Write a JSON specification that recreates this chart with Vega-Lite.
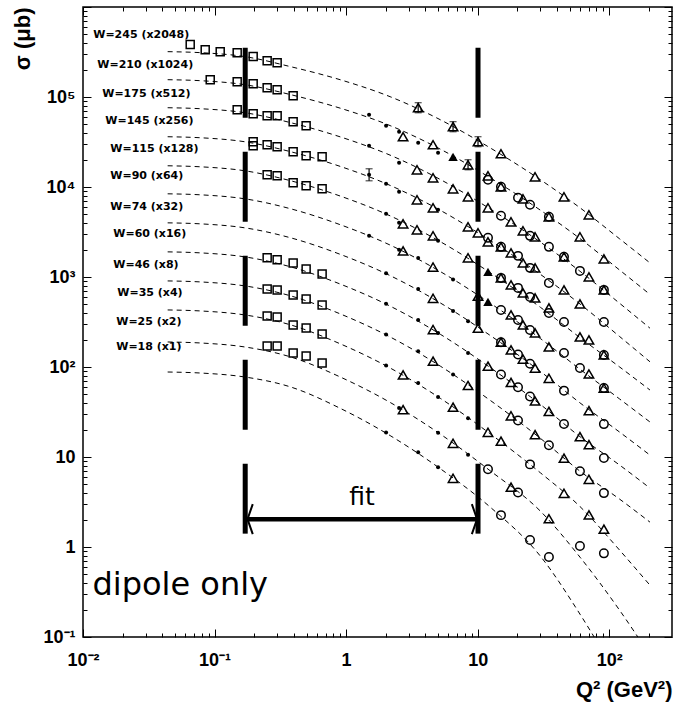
{
  "$schema": "https://vega.github.io/schema/vega-lite/v6.json",
  "width": 589,
  "height": 630,
  "autosize": {"type": "none"},
  "padding": {"left": 83, "top": 7, "right": 17, "bottom": 65},
  "background": "white",
  "config": {"view": {"stroke": "black", "strokeWidth": 1.5}},
  "datasets": {
    "curves": [
      {"W":245,"q":0.044,"s":319000},{"W":245,"q":0.078,"s":311000},{"W":245,"q":0.17,"s":281000},{"W":245,"q":0.38,"s":217000},{"W":245,"q":0.9,"s":155700},{"W":245,"q":2.16,"s":100800},{"W":245,"q":5.2,"s":55900},{"W":245,"q":12.4,"s":27300},{"W":245,"q":30,"s":12030},{"W":245,"q":60,"s":5870},{"W":245,"q":120,"s":2653},{"W":245,"q":204,"s":1435},
      {"W":210,"q":0.044,"s":155700},{"W":210,"q":0.078,"s":151800},{"W":210,"q":0.17,"s":137000},{"W":210,"q":0.38,"s":106100},{"W":210,"q":0.9,"s":75200},{"W":210,"q":2.16,"s":48100},{"W":210,"q":5.2,"s":26340},{"W":210,"q":12.4,"s":12690},{"W":210,"q":30,"s":5521},{"W":210,"q":60,"s":2668},{"W":210,"q":120,"s":1194},{"W":210,"q":204,"s":640.6},
      {"W":175,"q":0.044,"s":76000},{"W":175,"q":0.078,"s":74100},{"W":175,"q":0.17,"s":66900},{"W":175,"q":0.38,"s":51800},{"W":175,"q":0.9,"s":36100},{"W":175,"q":2.16,"s":22590},{"W":175,"q":5.2,"s":12120},{"W":175,"q":12.4,"s":5721},{"W":175,"q":30,"s":2439},{"W":175,"q":60,"s":1157},{"W":175,"q":120,"s":510},{"W":175,"q":204,"s":270},
      {"W":145,"q":0.044,"s":36170},{"W":145,"q":0.078,"s":35260},{"W":145,"q":0.17,"s":31820},{"W":145,"q":0.38,"s":24640},{"W":145,"q":0.9,"s":16960},{"W":145,"q":2.16,"s":10420},{"W":145,"q":5.2,"s":5507},{"W":145,"q":12.4,"s":2554},{"W":145,"q":30,"s":1069},{"W":145,"q":60,"s":501},{"W":145,"q":120,"s":217.9},{"W":145,"q":204,"s":114.3},
      {"W":115,"q":0.044,"s":17210},{"W":115,"q":0.078,"s":16770},{"W":115,"q":0.17,"s":15140},{"W":115,"q":0.38,"s":11720},{"W":115,"q":0.9,"s":7943},{"W":115,"q":2.16,"s":4782},{"W":115,"q":5.2,"s":2470},{"W":115,"q":12.4,"s":1122},{"W":115,"q":30,"s":460.3},{"W":115,"q":60,"s":211.8},{"W":115,"q":120,"s":100},{"W":115,"q":204,"s":55.5},
      {"W":90,"q":0.044,"s":8400},{"W":90,"q":0.078,"s":8189},{"W":90,"q":0.17,"s":7390},{"W":90,"q":0.38,"s":5721},{"W":90,"q":0.9,"s":3817},{"W":90,"q":2.16,"s":2264},{"W":90,"q":5.2,"s":1149},{"W":90,"q":12.4,"s":513.8},{"W":90,"q":30,"s":206.9},{"W":90,"q":60,"s":94.3},{"W":90,"q":120,"s":44.1},{"W":90,"q":204,"s":24.5},
      {"W":74,"q":0.044,"s":3997},{"W":74,"q":0.078,"s":3896},{"W":74,"q":0.17,"s":3517},{"W":74,"q":0.38,"s":2722},{"W":74,"q":0.9,"s":1788},{"W":74,"q":2.16,"s":1036},{"W":74,"q":5.2,"s":515.1},{"W":74,"q":12.4,"s":225.2},{"W":74,"q":30,"s":89.1},{"W":74,"q":60,"s":39.9},{"W":74,"q":120,"s":18.9},{"W":74,"q":204,"s":10.5},
      {"W":60,"q":0.044,"s":1902},{"W":60,"q":0.078,"s":1854},{"W":60,"q":0.17,"s":1673},{"W":60,"q":0.38,"s":1295},{"W":60,"q":0.9,"s":835.9},{"W":60,"q":2.16,"s":474.8},{"W":60,"q":5.2,"s":231},{"W":60,"q":12.4,"s":99},{"W":60,"q":30,"s":38.3},{"W":60,"q":60,"s":16.8},{"W":60,"q":120,"s":8.13},{"W":60,"q":204,"s":4.51},
      {"W":46,"q":0.044,"s":904.5},{"W":46,"q":0.078,"s":881.7},{"W":46,"q":0.17,"s":796.2},{"W":46,"q":0.38,"s":616.4},{"W":46,"q":0.9,"s":389.7},{"W":46,"q":2.16,"s":215.7},{"W":46,"q":5.2,"s":102.3},{"W":46,"q":12.4,"s":42.8},{"W":46,"q":30,"s":16.1},{"W":46,"q":60,"s":6.95},{"W":46,"q":120,"s":3.4},{"W":46,"q":204,"s":1.89},
      {"W":35,"q":0.044,"s":430.5},{"W":35,"q":0.078,"s":419.6},{"W":35,"q":0.17,"s":378.8},{"W":35,"q":0.38,"s":293.3},{"W":35,"q":0.9,"s":181.2},{"W":35,"q":2.16,"s":97.5},{"W":35,"q":5.2,"s":44.9},{"W":35,"q":12.4,"s":18.2},{"W":35,"q":30,"s":6.67},{"W":35,"q":60,"s":2.81},{"W":35,"q":120,"s":0.922},{"W":35,"q":204,"s":0.376},
      {"W":25,"q":0.044,"s":189.7},{"W":25,"q":0.078,"s":184.9},{"W":25,"q":0.17,"s":166.9},{"W":25,"q":0.38,"s":129.2},{"W":25,"q":0.9,"s":77.6},{"W":25,"q":2.16,"s":40.4},{"W":25,"q":5.2,"s":17.97},{"W":25,"q":12.4,"s":7.06},{"W":25,"q":30,"s":2.5},{"W":25,"q":60,"s":0.77},{"W":25,"q":120,"s":0.198},{"W":25,"q":204,"s":0.0626},
      {"W":18,"q":0.044,"s":87.98},{"W":18,"q":0.078,"s":85.75},{"W":18,"q":0.17,"s":77.4},{"W":18,"q":0.38,"s":59.9},{"W":18,"q":0.9,"s":34.8},{"W":18,"q":2.16,"s":17.3},{"W":18,"q":5.2,"s":7.41},{"W":18,"q":12.4,"s":2.79},{"W":18,"q":30,"s":0.79},{"W":18,"q":60,"s":0.179},{"W":18,"q":120,"s":0.033}
    ],
    "points": [
      {"W":245,"q":0.0653,"s":382000,"m":"sq"},{"W":245,"q":0.0849,"s":335700,"m":"sq"},{"W":245,"q":0.1104,"s":319000,"m":"sq"},{"W":245,"q":0.1486,"s":311000,"m":"sq"},{"W":245,"q":0.1966,"s":281000,"m":"sq"},{"W":245,"q":0.2511,"s":253400,"m":"sq"},{"W":245,"q":0.2991,"s":240700,"m":"sq"},
      {"W":210,"q":0.0927,"s":155700,"m":"sq"},{"W":210,"q":0.1486,"s":148000,"m":"sq"},{"W":210,"q":0.1966,"s":140600,"m":"sq"},{"W":210,"q":0.2511,"s":126900,"m":"sq"},{"W":210,"q":0.2991,"s":120600,"m":"sq"},{"W":210,"q":0.3958,"s":103400,"m":"sq"},
      {"W":175,"q":0.1486,"s":72240,"m":"sq"},{"W":175,"q":0.1966,"s":65200,"m":"sq"},{"W":175,"q":0.2511,"s":61940,"m":"sq"},{"W":175,"q":0.2991,"s":61940,"m":"sq"},{"W":175,"q":0.3958,"s":53110,"m":"sq"},{"W":175,"q":0.4967,"s":47940,"m":"sq"},
      {"W":145,"q":0.1966,"s":31820,"m":"sq"},{"W":145,"q":0.1966,"s":28730,"m":"sq"},{"W":145,"q":0.2511,"s":29470,"m":"sq"},{"W":145,"q":0.2991,"s":28000,"m":"sq"},{"W":145,"q":0.3958,"s":24640,"m":"sq"},{"W":145,"q":0.4967,"s":22230,"m":"sq"},{"W":145,"q":0.6571,"s":21670,"m":"sq"},
      {"W":115,"q":0.2511,"s":13670,"m":"sq"},{"W":115,"q":0.2991,"s":13320,"m":"sq"},{"W":115,"q":0.3958,"s":11140,"m":"sq"},{"W":115,"q":0.4967,"s":10310,"m":"sq"},{"W":115,"q":0.6571,"s":9550,"m":"sq"},
      {"W":60,"q":0.2511,"s":1632,"m":"sq"},{"W":60,"q":0.2991,"s":1550,"m":"sq"},{"W":60,"q":0.3958,"s":1435,"m":"sq"},{"W":60,"q":0.4967,"s":1231,"m":"sq"},{"W":60,"q":0.6571,"s":1083,"m":"sq"},
      {"W":46,"q":0.2511,"s":737.6,"m":"sq"},{"W":46,"q":0.2991,"s":718.9,"m":"sq"},{"W":46,"q":0.3958,"s":632.4,"m":"sq"},{"W":46,"q":0.4967,"s":570.9,"m":"sq"},{"W":46,"q":0.6571,"s":489.5,"m":"sq"},
      {"W":35,"q":0.2511,"s":369.4,"m":"sq"},{"W":35,"q":0.2991,"s":360.1,"m":"sq"},{"W":35,"q":0.3958,"s":293.3,"m":"sq"},{"W":35,"q":0.4967,"s":271.6,"m":"sq"},{"W":35,"q":0.6571,"s":232.9,"m":"sq"},
      {"W":25,"q":0.2511,"s":171.3,"m":"sq"},{"W":25,"q":0.2991,"s":171.3,"m":"sq"},{"W":25,"q":0.3958,"s":143.2,"m":"sq"},{"W":25,"q":0.4967,"s":132.6,"m":"sq"},{"W":25,"q":0.6571,"s":110.8,"m":"sq"},

      {"W":245,"q":3.53,"s":76000,"m":"tri"},{"W":245,"q":6.5,"s":46750,"m":"tri"},{"W":245,"q":10.06,"s":31820,"m":"tri"},{"W":245,"q":15.04,"s":23410,"m":"tri"},{"W":245,"q":27.3,"s":12980,"m":"tri"},{"W":245,"q":45.3,"s":7782,"m":"tri"},{"W":245,"q":70.1,"s":4908,"m":"tri"},

      {"W":210,"q":1.495,"s":63570,"m":"dot"},{"W":210,"q":2.013,"s":47940,"m":"dot"},{"W":210,"q":2.527,"s":41130,"m":"dot"},{"W":210,"q":3.53,"s":31020,"m":"dot"},{"W":210,"q":5.0,"s":24020,"m":"dot"},
      {"W":210,"q":2.71,"s":36170,"m":"tri"},{"W":210,"q":4.58,"s":29470,"m":"tri"},{"W":210,"q":6.5,"s":21670,"m":"ftri"},{"W":210,"q":8.45,"s":17660,"m":"tri"},{"W":210,"q":11.98,"s":13320,"m":"tri"},{"W":210,"q":15.04,"s":10050,"m":"tri"},{"W":210,"q":22.1,"s":7392,"m":"tri"},{"W":210,"q":34.8,"s":4663,"m":"tri"},{"W":210,"q":59.9,"s":2793,"m":"tri"},{"W":210,"q":91.1,"s":1590,"m":"tri"},
      {"W":210,"q":11.98,"s":12030,"m":"circ"},{"W":210,"q":15.04,"s":10050,"m":"circ"},{"W":210,"q":20.26,"s":7584,"m":"circ"},{"W":210,"q":25.0,"s":6340,"m":"circ"},{"W":210,"q":34.8,"s":4663,"m":"circ"},

      {"W":175,"q":1.495,"s":28730,"m":"dot"},{"W":175,"q":2.527,"s":18590,"m":"dot"},
      {"W":175,"q":3.46,"s":15540,"m":"tri"},{"W":175,"q":4.58,"s":12660,"m":"tri"},{"W":175,"q":6.5,"s":9550,"m":"tri"},{"W":175,"q":8.45,"s":7782,"m":"tri"},{"W":175,"q":11.98,"s":5870,"m":"tri"},{"W":175,"q":17.92,"s":4102,"m":"tri"},{"W":175,"q":22.1,"s":3257,"m":"tri"},{"W":175,"q":27.3,"s":2793,"m":"tri"},{"W":175,"q":45.3,"s":1674,"m":"tri"},{"W":175,"q":70.1,"s":1003,"m":"tri"},{"W":175,"q":91.1,"s":718.9,"m":"tri"},
      {"W":175,"q":15.04,"s":4783,"m":"circ"},{"W":175,"q":25.0,"s":2866,"m":"circ"},{"W":175,"q":34.8,"s":2162,"m":"circ"},{"W":175,"q":45.3,"s":1674,"m":"circ"},{"W":175,"q":59.9,"s":1169,"m":"circ"},{"W":175,"q":91.1,"s":718.9,"m":"circ"},

      {"W":145,"q":1.495,"s":13670,"m":"dot"},{"W":145,"q":2.013,"s":10860,"m":"dot"},{"W":145,"q":2.527,"s":8846,"m":"dot"},{"W":145,"q":5.0,"s":5578,"m":"dot"},
      {"W":145,"q":3.46,"s":7206,"m":"tri"},{"W":145,"q":4.58,"s":5870,"m":"tri"},{"W":145,"q":8.45,"s":3609,"m":"tri"},{"W":145,"q":10.06,"s":3094,"m":"tri"},{"W":145,"q":11.98,"s":2458,"m":"tri"},{"W":145,"q":15.04,"s":2162,"m":"tri"},{"W":145,"q":17.92,"s":1854,"m":"tri"},{"W":145,"q":22.1,"s":1435,"m":"tri"},{"W":145,"q":27.3,"s":1263,"m":"tri"},{"W":145,"q":45.3,"s":718.9,"m":"tri"},{"W":145,"q":59.9,"s":502.2,"m":"tri"},
      {"W":145,"q":11.98,"s":2723,"m":"circ"},{"W":145,"q":15.04,"s":2162,"m":"circ"},{"W":145,"q":20.26,"s":1717,"m":"circ"},{"W":145,"q":25.0,"s":1263,"m":"circ"},{"W":145,"q":34.8,"s":860.2,"m":"circ"},{"W":145,"q":91.1,"s":316.7,"m":"circ"},

      {"W":115,"q":2.013,"s":5035,"m":"dot"},{"W":115,"q":2.527,"s":3999,"m":"dot"},{"W":115,"q":5.0,"s":2522,"m":"dot"},
      {"W":115,"q":2.71,"s":3896,"m":"tri"},{"W":115,"q":3.46,"s":3342,"m":"tri"},{"W":115,"q":4.58,"s":2866,"m":"tri"},{"W":115,"q":8.45,"s":1632,"m":"tri"},{"W":115,"q":11.98,"s":1140,"m":"ftri"},{"W":115,"q":15.04,"s":977.5,"m":"tri"},{"W":115,"q":17.92,"s":817.2,"m":"tri"},{"W":115,"q":22.1,"s":665.7,"m":"tri"},{"W":115,"q":27.3,"s":585.7,"m":"tri"},{"W":115,"q":34.8,"s":453.3,"m":"tri"},{"W":115,"q":59.9,"s":215.7,"m":"tri"},{"W":115,"q":70.1,"s":199.7,"m":"tri"},{"W":115,"q":91.1,"s":136.0,"m":"tri"},
      {"W":115,"q":15.04,"s":977.5,"m":"circ"},{"W":115,"q":20.26,"s":756.7,"m":"circ"},{"W":115,"q":25.0,"s":600.9,"m":"circ"},{"W":115,"q":34.8,"s":398.8,"m":"circ"},{"W":115,"q":45.3,"s":316.7,"m":"circ"},{"W":115,"q":91.1,"s":136.0,"m":"circ"},

      {"W":90,"q":1.495,"s":2881,"m":"dot"},{"W":90,"q":2.527,"s":2013,"m":"dot"},{"W":90,"q":3.53,"s":1627,"m":"dot"},{"W":90,"q":6.5,"s":938.3,"m":"dot"},
      {"W":90,"q":2.71,"s":1947,"m":"tri"},{"W":90,"q":4.58,"s":1289,"m":"tri"},{"W":90,"q":10.06,"s":611.7,"m":"tri"},{"W":90,"q":11.98,"s":528.8,"m":"ftri"},{"W":90,"q":17.92,"s":378.9,"m":"tri"},{"W":90,"q":22.1,"s":293.3,"m":"tri"},{"W":90,"q":27.3,"s":238.9,"m":"tri"},{"W":90,"q":34.8,"s":167.0,"m":"tri"},{"W":90,"q":70.1,"s":83.6,"m":"tri"},{"W":90,"q":91.1,"s":58.4,"m":"tri"},
      {"W":90,"q":15.04,"s":430.7,"m":"circ"},{"W":90,"q":20.26,"s":333.4,"m":"circ"},{"W":90,"q":25.0,"s":258.0,"m":"circ"},{"W":90,"q":45.3,"s":143.2,"m":"circ"},{"W":90,"q":59.9,"s":97.5,"m":"circ"},{"W":90,"q":91.1,"s":58.4,"m":"circ"},

      {"W":74,"q":2.013,"s":1100,"m":"dot"},{"W":74,"q":3.53,"s":735.6,"m":"dot"},{"W":74,"q":6.5,"s":418.7,"m":"dot"},{"W":74,"q":8.45,"s":321.7,"m":"dot"},
      {"W":74,"q":4.58,"s":579.8,"m":"tri"},{"W":74,"q":10.06,"s":270.2,"m":"tri"},{"W":74,"q":15.04,"s":188.8,"m":"tri"},{"W":74,"q":17.92,"s":154.6,"m":"tri"},{"W":74,"q":22.1,"s":122.5,"m":"tri"},{"W":74,"q":27.3,"s":97.2,"m":"tri"},{"W":74,"q":34.8,"s":74.9,"m":"tri"},{"W":74,"q":70.1,"s":32.7,"m":"tri"},
      {"W":74,"q":15.04,"s":188.8,"m":"circ"},{"W":74,"q":20.26,"s":137.4,"m":"circ"},{"W":74,"q":25.0,"s":108.8,"m":"circ"},{"W":74,"q":45.3,"s":54.6,"m":"circ"},{"W":74,"q":91.1,"s":23.2,"m":"circ"},

      {"W":60,"q":2.013,"s":504.8,"m":"dot"},{"W":60,"q":3.53,"s":333.4,"m":"dot"},{"W":60,"q":5.0,"s":238.4,"m":"dot"},{"W":60,"q":8.45,"s":142.8,"m":"dot"},
      {"W":60,"q":4.58,"s":260.7,"m":"tri"},{"W":60,"q":11.98,"s":102.1,"m":"tri"},{"W":60,"q":17.92,"s":67.3,"m":"tri"},{"W":60,"q":27.3,"s":41.9,"m":"tri"},{"W":60,"q":34.8,"s":32.1,"m":"tri"},{"W":60,"q":59.9,"s":16.8,"m":"tri"},{"W":60,"q":70.1,"s":13.7,"m":"tri"},
      {"W":60,"q":15.04,"s":82.5,"m":"circ"},{"W":60,"q":20.26,"s":59.6,"m":"circ"},{"W":60,"q":25.0,"s":47.0,"m":"circ"},{"W":60,"q":45.3,"s":23.3,"m":"circ"},{"W":60,"q":91.1,"s":9.73,"m":"circ"},

      {"W":46,"q":2.013,"s":230.0,"m":"dot"},{"W":46,"q":3.53,"s":149.2,"m":"dot"},{"W":46,"q":6.5,"s":82.3,"m":"dot"},{"W":46,"q":10.06,"s":51.8,"m":"dot"},
      {"W":46,"q":4.58,"s":116.1,"m":"tri"},{"W":46,"q":8.45,"s":62.3,"m":"tri"},{"W":46,"q":17.92,"s":28.7,"m":"tri"},{"W":46,"q":27.3,"s":17.7,"m":"tri"},{"W":46,"q":45.3,"s":9.70,"m":"tri"},{"W":46,"q":70.1,"s":5.65,"m":"tri"},
      {"W":46,"q":20.26,"s":25.4,"m":"circ"},{"W":46,"q":34.8,"s":13.5,"m":"circ"},{"W":46,"q":59.9,"s":6.95,"m":"circ"},{"W":46,"q":91.1,"s":3.97,"m":"circ"},

      {"W":35,"q":2.013,"s":103.9,"m":"dot"},{"W":35,"q":3.53,"s":66.2,"m":"dot"},{"W":35,"q":5.0,"s":46.4,"m":"dot"},{"W":35,"q":8.45,"s":26.9,"m":"dot"},
      {"W":35,"q":2.71,"s":81.7,"m":"tri"},{"W":35,"q":6.5,"s":35.8,"m":"tri"},{"W":35,"q":11.98,"s":18.8,"m":"tri"},{"W":35,"q":15.04,"s":15.0,"m":"tri"},{"W":35,"q":45.3,"s":3.95,"m":"tri"},{"W":35,"q":70.1,"s":2.27,"m":"tri"},{"W":35,"q":91.1,"s":1.578,"m":"tri"},
      {"W":35,"q":25.0,"s":8.28,"m":"circ"},

      {"W":25,"q":2.527,"s":35.0,"m":"dot"},{"W":25,"q":5.0,"s":18.6,"m":"dot"},{"W":25,"q":8.45,"s":10.56,"m":"dot"},
      {"W":25,"q":2.71,"s":33.6,"m":"tri"},{"W":25,"q":6.5,"s":14.2,"m":"tri"},{"W":25,"q":17.92,"s":4.62,"m":"tri"},{"W":25,"q":34.8,"s":2.06,"m":"tri"},{"W":25,"q":91.1,"s":0.85,"m":"circ"},
      {"W":25,"q":11.98,"s":7.32,"m":"circ"},{"W":25,"q":20.26,"s":4.04,"m":"circ"},{"W":25,"q":59.9,"s":1.024,"m":"circ"},

      {"W":18,"q":2.013,"s":18.7,"m":"dot"},{"W":18,"q":3.53,"s":11.3,"m":"dot"},{"W":18,"q":5.0,"s":7.70,"m":"dot"},
      {"W":18,"q":6.5,"s":5.80,"m":"tri"},
      {"W":18,"q":15.04,"s":2.26,"m":"circ"},{"W":18,"q":25.0,"s":1.194,"m":"circ"},{"W":18,"q":34.8,"s":0.774,"m":"circ"}
    ],
    "errors": [
      {"q":3.53,"lo":66800,"hi":86400},
      {"q":6.5,"lo":41100,"hi":53200},
      {"q":10.06,"lo":28000,"hi":36200},
      {"q":8.45,"lo":15530,"hi":20080},
      {"q":1.495,"lo":11720,"hi":15940}
    ],
    "labels": [
      {"q":0.01197,"s":493200,"t":"W=245 (x2048)"},
      {"q":0.01284,"s":228800,"t":"W=210 (x1024)"},
      {"q":0.01401,"s":108800,"t":"W=175 (x512)"},
      {"q":0.01477,"s":54500,"t":"W=145 (x256)"},
      {"q":0.01612,"s":26400,"t":"W=115 (x128)"},
      {"q":0.01612,"s":13090,"t":"W=90 (x64)"},
      {"q":0.01612,"s":6070,"t":"W=74 (x32)"},
      {"q":0.01699,"s":2994,"t":"W=60 (x16)"},
      {"q":0.01699,"s":1363,"t":"W=46 (x8)"},
      {"q":0.01822,"s":660.5,"t":"W=35 (x4)"},
      {"q":0.0179,"s":319.2,"t":"W=25 (x2)"},
      {"q":0.0179,"s":168.2,"t":"W=18 (x1)"}
    ],
    "bars": [
      {"q":0.171,"s":353500,"s2":1.354},
      {"q":10.06,"s":353500,"s2":1.354}
    ],
    "arrow": [{"q":0.178,"q2":9.9,"s":2.04}]
  },
  "encoding": {
    "x": {"field": "q", "type": "quantitative", "scale": {"type": "log", "domain": [0.01, 300], "nice": false}, "axis": null},
    "y": {"field": "s", "type": "quantitative", "scale": {"type": "log", "domain": [0.1, 1000000], "nice": false}, "axis": null}
  },
  "resolve": {"axis": {"x": "independent", "y": "independent"}},
  "layer": [
    {
      "data": {"name": "curves"},
      "mark": {"type": "line", "color": "black", "strokeWidth": 1, "strokeDash": [5, 4], "interpolate": "monotone", "clip": true},
      "encoding": {
        "x": {"field": "q", "type": "quantitative", "scale": {"type": "log", "domain": [0.01, 300], "nice": false},
          "axis": {"orient": "bottom", "domain": false, "grid": false,
            "values": [0.01,0.02,0.03,0.04,0.05,0.06,0.07,0.08,0.09,0.1,0.2,0.3,0.4,0.5,0.6,0.7,0.8,0.9,1,2,3,4,5,6,7,8,9,10,20,30,40,50,60,70,80,90,100,200],
            "labelExpr": "datum.value==0.01?'10⁻²':datum.value==0.1?'10⁻¹':datum.value==1?'1':datum.value==10?'10':datum.value==100?'10²':''",
            "tickSize": {"condition": {"test": "datum.value==0.01||datum.value==0.1||datum.value==1||datum.value==10||datum.value==100", "value": -8}, "value": -4},
            "tickColor": "black", "tickWidth": 1,
            "labelOverlap": false, "labelFlush": false, "labelBound": false,
            "labelFont": "Liberation Sans", "labelFontSize": 18, "labelFontWeight": "bold", "labelColor": "black", "labelPadding": 22,
            "title": "Q² (GeV²)", "titleFont": "Liberation Sans", "titleFontSize": 22, "titleFontWeight": "bold", "titleColor": "black",
            "titleAnchor": "end", "titleX": 589, "titleY": 52, "titleAlign": "right", "titleBaseline": "middle"}},
        "y": {"field": "s", "type": "quantitative", "scale": {"type": "log", "domain": [0.1, 1000000], "nice": false},
          "axis": {"orient": "left", "domain": false, "grid": false,
            "values": [0.1,0.2,0.3,0.4,0.5,0.6,0.7,0.8,0.9,1,2,3,4,5,6,7,8,9,10,20,30,40,50,60,70,80,90,100,200,300,400,500,600,700,800,900,1000,2000,3000,4000,5000,6000,7000,8000,9000,10000,20000,30000,40000,50000,60000,70000,80000,90000,100000,200000,300000,400000,500000,600000,700000,800000,900000,1000000],
            "labelExpr": "datum.value==0.1?'10⁻¹':datum.value==1?'1':datum.value==10?'10':datum.value==100?'10²':datum.value==1000?'10³':datum.value==10000?'10⁴':datum.value==100000?'10⁵':''",
            "tickSize": {"condition": {"test": "datum.value==0.1||datum.value==1||datum.value==10||datum.value==100||datum.value==1000||datum.value==10000||datum.value==100000||datum.value==1000000", "value": -8}, "value": -4},
            "tickColor": "black", "tickWidth": 1,
            "labelOverlap": false, "labelFlush": false, "labelBound": false,
            "labelFont": "Liberation Sans", "labelFontSize": 18, "labelFontWeight": "bold", "labelColor": "black", "labelPadding": 16,
            "title": "σ (μb)", "titleFont": "Liberation Sans", "titleFontSize": 22, "titleFontWeight": "bold", "titleColor": "black",
            "titleX": -61, "titleY": 0, "titleAngle": 270, "titleAlign": "right", "titleBaseline": "middle"}},
        "detail": {"field": "W", "type": "nominal"}
      }
    },
    {
      "data": {"name": "points"},
      "transform": [{"filter": "datum.m == 'sq'"}],
      "mark": {"type": "point", "shape": "square", "size": 64, "filled": false, "color": "black", "strokeWidth": 1.5, "opacity": 1},
      "encoding": {
        "x": {"field": "q", "type": "quantitative", "scale": {"type": "log", "domain": [0.01, 300], "nice": false},
          "axis": {"orient": "top", "domain": false, "grid": false, "labels": false, "title": null,
            "values": [0.01,0.02,0.03,0.04,0.05,0.06,0.07,0.08,0.09,0.1,0.2,0.3,0.4,0.5,0.6,0.7,0.8,0.9,1,2,3,4,5,6,7,8,9,10,20,30,40,50,60,70,80,90,100,200],
            "tickSize": {"condition": {"test": "datum.value==0.01||datum.value==0.1||datum.value==1||datum.value==10||datum.value==100", "value": -8}, "value": -4},
            "tickColor": "black", "tickWidth": 1}},
        "y": {"field": "s", "type": "quantitative", "scale": {"type": "log", "domain": [0.1, 1000000], "nice": false},
          "axis": {"orient": "right", "domain": false, "grid": false, "labels": false, "title": null,
            "values": [0.1,0.2,0.3,0.4,0.5,0.6,0.7,0.8,0.9,1,2,3,4,5,6,7,8,9,10,20,30,40,50,60,70,80,90,100,200,300,400,500,600,700,800,900,1000,2000,3000,4000,5000,6000,7000,8000,9000,10000,20000,30000,40000,50000,60000,70000,80000,90000,100000,200000,300000,400000,500000,600000,700000,800000,900000,1000000],
            "tickSize": {"condition": {"test": "datum.value==0.1||datum.value==1||datum.value==10||datum.value==100||datum.value==1000||datum.value==10000||datum.value==100000||datum.value==1000000", "value": -8}, "value": -4},
            "tickColor": "black", "tickWidth": 1}}
      }
    },
    {
      "data": {"name": "points"},
      "transform": [{"filter": "datum.m == 'tri'"}],
      "mark": {"type": "point", "shape": "triangle-up", "size": 90, "filled": false, "color": "black", "strokeWidth": 1.5, "opacity": 1}
    },
    {
      "data": {"name": "points"},
      "transform": [{"filter": "datum.m == 'ftri'"}],
      "mark": {"type": "point", "shape": "triangle-up", "size": 90, "filled": true, "color": "black", "opacity": 1}
    },
    {
      "data": {"name": "points"},
      "transform": [{"filter": "datum.m == 'circ'"}],
      "mark": {"type": "point", "shape": "circle", "size": 72, "filled": false, "color": "black", "strokeWidth": 1.5, "opacity": 1}
    },
    {
      "data": {"name": "points"},
      "transform": [{"filter": "datum.m == 'dot'"}],
      "mark": {"type": "point", "shape": "circle", "size": 16, "filled": true, "color": "black", "opacity": 1}
    },
    {
      "data": {"name": "errors"},
      "mark": {"type": "rule", "color": "black", "strokeWidth": 1.2},
      "encoding": {
        "y": {"field": "lo", "type": "quantitative", "scale": {"type": "log", "domain": [0.1, 1000000], "nice": false}, "axis": null},
        "y2": {"field": "hi"}
      }
    },
    {
      "data": {"name": "errors"},
      "mark": {"type": "tick", "color": "black", "thickness": 1.2, "size": 7, "orient": "horizontal"},
      "encoding": {
        "y": {"field": "lo", "type": "quantitative", "scale": {"type": "log", "domain": [0.1, 1000000], "nice": false}, "axis": null}
      }
    },
    {
      "data": {"name": "errors"},
      "mark": {"type": "tick", "color": "black", "thickness": 1.2, "size": 7, "orient": "horizontal"},
      "encoding": {
        "y": {"field": "hi", "type": "quantitative", "scale": {"type": "log", "domain": [0.1, 1000000], "nice": false}, "axis": null}
      }
    },
    {
      "data": {"name": "bars"},
      "mark": {"type": "rule", "color": "black", "strokeWidth": 5, "strokeDash": [70, 34], "strokeCap": "butt"},
      "encoding": {"y2": {"field": "s2"}}
    },
    {
      "data": {"name": "arrow"},
      "mark": {"type": "rule", "color": "black", "strokeWidth": 4.5, "strokeCap": "butt"},
      "encoding": {"x2": {"field": "q2"}}
    },
    {
      "data": {"values": [{"q": 0.178, "s": 2.04}]},
      "mark": {"type": "point", "shape": "M0.35,-1L0,0L0.35,1", "filled": false, "color": "black", "strokeWidth": 2, "size": 900, "opacity": 1}
    },
    {
      "data": {"values": [{"q": 9.9, "s": 2.04}]},
      "mark": {"type": "point", "shape": "M-0.35,-1L0,0L-0.35,1", "filled": false, "color": "black", "strokeWidth": 2, "size": 900, "opacity": 1}
    },
    {
      "data": {"name": "labels"},
      "mark": {"type": "text", "font": "DejaVu Sans", "fontWeight": "bold", "fontSize": 11, "align": "left", "baseline": "middle", "color": "black"},
      "encoding": {"text": {"field": "t", "type": "nominal"}}
    },
    {
      "data": {"values": [{"q": 1.32, "s": 3.58, "t": "fit"}]},
      "mark": {"type": "text", "font": "DejaVu Sans", "fontSize": 25, "align": "center", "baseline": "middle", "color": "black"},
      "encoding": {"text": {"field": "t", "type": "nominal"}}
    },
    {
      "data": {"values": [{"q": 0.0118, "s": 0.291, "t": "dipole only"}]},
      "mark": {"type": "text", "font": "DejaVu Sans", "fontSize": 32, "align": "left", "baseline": "alphabetic", "color": "black"},
      "encoding": {"text": {"field": "t", "type": "nominal"}}
    }
  ]
}
